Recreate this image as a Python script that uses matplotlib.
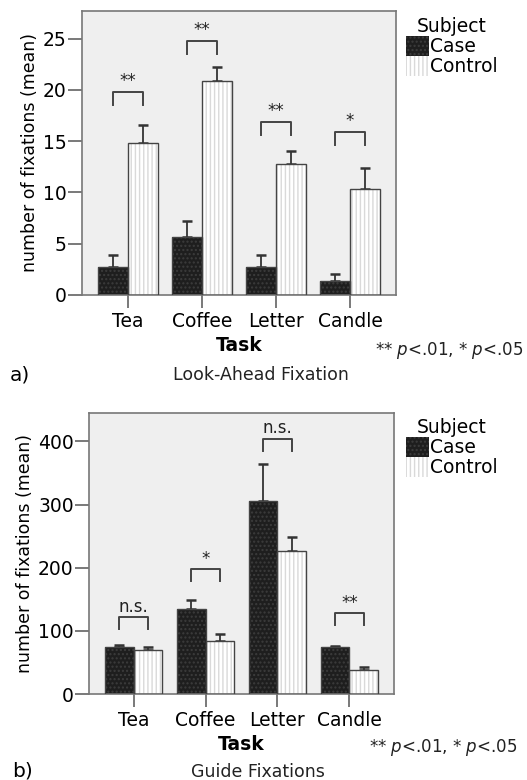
import matplotlib
matplotlib.use("Agg")
import matplotlib.pyplot as plt
from matplotlib.patches import Patch
import numpy as np

plt.rcParams['font.family'] = ['DejaVu Sans']

tasks = ["Tea", "Coffee", "Letter", "Candle"]
groups = ["Case", "Control"]

# Panel a) Look-Ahead Fixation
la_case = [2.7, 5.7, 2.7, 1.4]
la_case_err = [1.2, 1.5, 1.2, 0.6]
la_ctrl = [14.8, 20.9, 12.75, 10.3]
la_ctrl_err = [1.8, 1.3, 1.3, 2.1]
la_sig = ["**", "**", "**", "*"]
la_bracket = [19.8, 24.8, 16.9, 15.9]
la_yticks = [0, 5, 10, 15, 20, 25]

# Panel b) Guide Fixations
gf_case = [74, 134, 306, 74]
gf_case_err = [4, 15, 59, 1.5]
gf_ctrl = [69, 84, 227, 38]
gf_ctrl_err = [6, 11, 22, 4]
gf_sig = ["n.s.", "*", "n.s.", "**"]
gf_bracket = [121.6, 197.6, 403.6, 127.7]
gf_yticks = [0, 100, 200, 300, 400]

CASE_FC, CASE_HC = "#1e1e1e", "#3c3c3c"
CTRL_FC, CTRL_HC = "#ffffff", "#d9d9d9"
EDGE = "#444444"

W, H = 527, 780
fig = plt.figure(figsize=(W / 100, H / 100), dpi=100)


def panel(rect, case, case_err, ctrl, ctrl_err, sig, bracket, yticks, ylim, leg_len):
    ax = fig.add_axes(rect)
    ax.set_facecolor("#efefef")
    x = np.arange(len(tasks))
    bw = 0.4
    for vals, errs, off, fc, hc, hatch in [
        (case, case_err, -bw / 2, CASE_FC, CASE_HC, "...."),
        (ctrl, ctrl_err, bw / 2, CTRL_FC, CTRL_HC, "||||"),
    ]:
        ax.errorbar(x + off, vals, yerr=[np.zeros(len(vals)), errs], fmt="none",
                    ecolor="#333333", elinewidth=1.3, capsize=3.5, capthick=1.8, zorder=1)
        ax.bar(x + off, vals, bw, color=fc, hatch=hatch, edgecolor=hc, linewidth=0, zorder=2)
        ax.bar(x + off, vals, bw, fill=False, edgecolor=EDGE, linewidth=1.0, zorder=3)
    for i, (s, b) in enumerate(zip(sig, bracket)):
        x0, x1 = x[i] - bw / 2, x[i] + bw / 2
        ax.plot([x0, x0, x1, x1], [b - leg_len, b, b, b - leg_len], color="#444444", lw=1.4, zorder=4)
        ax.text(x[i], b + leg_len * 0.15, s, ha="center", va="bottom", fontsize=12, color="#222222")
    ax.set_xlim(-0.62, 3.62)
    ax.set_ylim(*ylim)
    ax.set_xticks(x)
    ax.set_xticklabels(tasks, fontsize=13.5)
    ax.set_yticks(yticks)
    ax.tick_params(axis="y", labelsize=13.5, length=10, width=1.1, color="#555555", pad=1)
    ax.tick_params(axis="x", length=9, width=1.1, color="#555555", pad=3)
    for sp in ax.spines.values():
        sp.set_color("#777777")
        sp.set_linewidth(1.2)
    ax.set_xlabel("Task", fontsize=13.5, fontweight="bold", labelpad=4)
    ax.set_ylabel("number of fixations (mean)", fontsize=12.5, labelpad=3)
    handles = [Patch(facecolor=CASE_FC, edgecolor=CASE_HC, hatch="....", linewidth=0),
               Patch(facecolor=CTRL_FC, edgecolor=CTRL_HC, hatch="||||", linewidth=0)]
    return ax, handles


ax1, h = panel([82 / W, 1 - 295 / H, (396 - 82) / W, (295 - 11) / H],
               la_case, la_case_err, la_ctrl, la_ctrl_err, la_sig, la_bracket,
               la_yticks, (0, 27.7), 1.3)
ax2, h2 = panel([89 / W, 1 - 694 / H, (394 - 89) / W, (694 - 413) / H],
                gf_case, gf_case_err, gf_ctrl, gf_ctrl_err, gf_sig, gf_bracket,
                gf_yticks, (0, 445), 18)

for hh, ytop in [(h, 17), (h2, 418)]:
    leg = fig.legend(hh, groups, title="Subject", loc="upper left",
                     bbox_to_anchor=(406 / W, 1 - ytop / H), frameon=False,
                     fontsize=13.5, title_fontsize=13.5, handlelength=1.2, handleheight=1.25,
                     handletextpad=0.1, labelspacing=0.0, borderpad=0, borderaxespad=0)
    leg._legend_box.align = "center"


def pnote(xc, y):
    return fig.text(xc / W, 1 - y / H, "** $p$<.01, * $p$<.05", fontsize=12, ha="center", va="center",
                    color="#222222")


pnote(449, 351)
pnote(443, 747)
fig.text(20 / W, 1 - 375 / H, "a)", fontsize=14.5, ha="center", va="center")
fig.text(261 / W, 1 - 375 / H, "Look-Ahead Fixation", fontsize=12.5, ha="center", va="center", color="#222222")
fig.text(22 / W, 1 - 771 / H, "b)", fontsize=14.5, ha="center", va="center")
fig.text(258 / W, 1 - 772 / H, "Guide Fixations", fontsize=12.5, ha="center", va="center", color="#222222")

fig.savefig("out.png", dpi=100, facecolor="white")
